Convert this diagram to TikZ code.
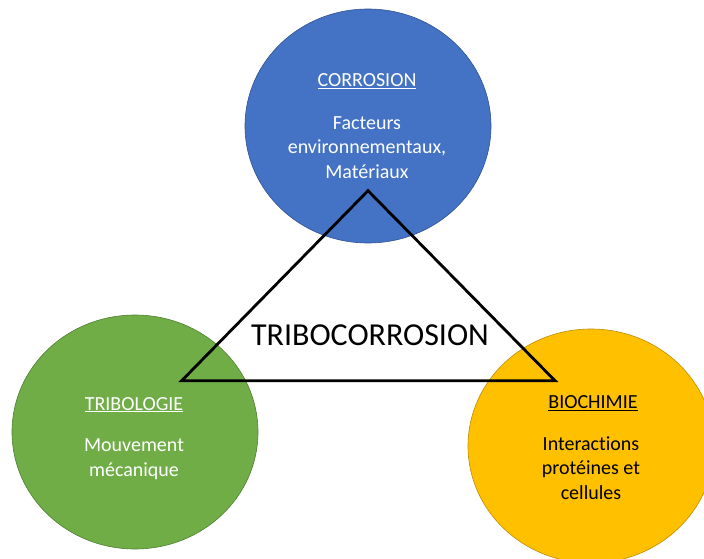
\documentclass[tikz,border=0pt]{standalone}
\usepackage{fontspec}
\setmainfont{Carlito}[Ligatures=NoCommon]
\usetikzlibrary{shapes.geometric,positioning}
\definecolor{bleu}{HTML}{4472C4}
\definecolor{bleufonce}{HTML}{2F528F}
\definecolor{vert}{HTML}{70AD47}
\definecolor{vertfonce}{HTML}{507E32}
\definecolor{jaune}{HTML}{FFC000}
\definecolor{jaunefonce}{HTML}{BC8C00}
\tikzset{%
   bulle/.style={ellipse, inner sep=0mm, outer sep=0mm, minimum width=246pt, minimum height=234pt, line width=0.6pt},
   titre/.style={anchor=base, inner sep=0pt, font=\fontsize{20}{24.5}\selectfont},
   texte/.style={anchor=base, inner sep=0pt, align=center, font=\fontsize{20}{24.5}\selectfont},
}

\begin{document}
\begin{tikzpicture}[x=1pt, y=-1pt]
   \useasboundingbox (0,0) rectangle (704,559);
   \clip (0,0) rectangle (704,559);
   % les trois bulles
   \node[bulle, fill=bleu, draw=bleufonce] (corr) at (368,126) {};
   \node[bulle, fill=vert, draw=vertfonce] (tribo) at (135,432) {};
   \node[bulle, fill=jaune, draw=jaunefonce] (bio) at (591,446) {};
   % textes (base = ligne du bas)
   \node[titre, text=white] (corrT) at (367,86.7) {\underline{CORROSION}};
   \node[texte, text=white] (corrB) at (367,178.3) {Facteurs\\environnementaux,\\Matériaux};
   \node[titre, text=white] (triboT) at (134,410) {\underline{TRIBOLOGIE}};
   \node[texte, text=white] (triboB) at (134,476) {Mouvement\\mécanique};
   \node[titre] (bioT) at (593,408.3) {\underline{BIOCHIMIE}};
   \node[texte] (bioB) at (591,499) {Interactions\\protéines et\\cellules};
   % triangle
   \coordinate (h) at (368,190.7);
   \coordinate (g) at (181.7,380.7);
   \coordinate (d) at (555,380.7);
   \draw[line width=2.8pt, line join=miter] (h) -- (g) -- (d) -- cycle;
   \node[anchor=base, inner sep=0pt, font=\fontsize{32}{38}\selectfont] (tc) at (370,345.7) {TRIBOCORROSION};
\end{tikzpicture}
\end{document}
